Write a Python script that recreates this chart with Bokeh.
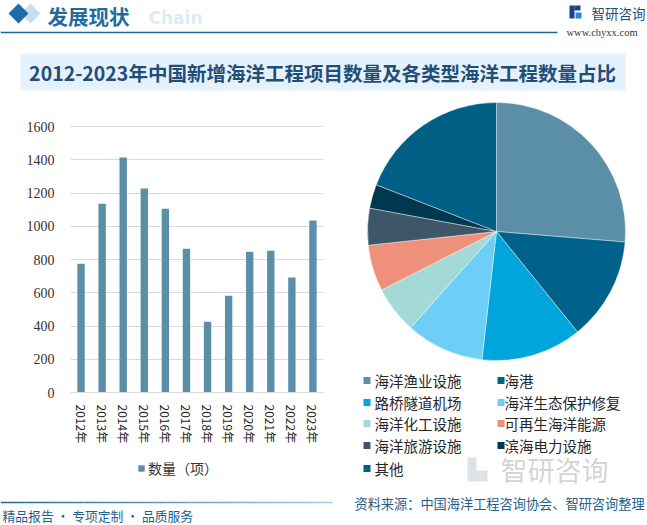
import numpy as np
from bokeh.plotting import figure
from bokeh.models import (ColumnDataSource, Range1d, FactorRange, FixedTicker,
                          Legend, LegendItem)
from bokeh.layouts import column, row
from bokeh.embed import file_html
from bokeh.resources import INLINE
from bokeh.core.properties import value

# ---------------- data ----------------
years = ["2012年", "2013年", "2014年", "2015年", "2016年", "2017年",
         "2018年", "2019年", "2020年", "2021年", "2022年", "2023年"]
counts = [775, 1136, 1413, 1227, 1106, 865, 426, 582, 847, 853, 691, 1034]
y_ticks = [0, 200, 400, 600, 800, 1000, 1200, 1400, 1600]
bar_series = "数量（项）"

pie_labels = ["海洋渔业设施", "海港", "路桥隧道机场", "海洋生态保护修复",
              "海洋化工设施", "可再生海洋能源", "海洋旅游设施", "滨海电力设施", "其他"]
pie_shares = [26.3, 12.9, 12.6, 9.8, 5.9, 5.8, 4.6, 3.0, 19.1]
pie_colors = ["#5B8FA8", "#00628A", "#00A6DB", "#6DCFF6", "#A3D9D6",
              "#EF917A", "#3E5768", "#00384F", "#005F85"]

title_text = "2012-2023年中国新增海洋工程项目数量及各类型海洋工程数量占比"
header_text = "发展现状"
source_text = "资料来源：中国海洋工程咨询协会、智研咨询整理"
slogan_text = "精品报告 · 专项定制 · 品质服务"

FONT = "Noto Sans CJK SC"
BAR = "#5B8FA8"
W = 647


def blank(width, height, xr, yr):
    f = figure(width=width, height=height, x_range=xr, y_range=yr,
               x_axis_type=None, y_axis_type=None, output_backend="svg",
               toolbar_location=None, min_border=0)
    f.outline_line_color = None
    f.grid.visible = False
    return f


# ---------------- header (page y 0..95) ----------------
HH = 95
hdr = blank(W, HH, Range1d(0, W), Range1d(HH, 0))
hdr.scatter(x=[30], y=[13], marker="square", size=14, angle=np.pi / 4,
            fill_color="#C9DFEF", line_color=None)
hdr.scatter(x=[18], y=[13], marker="square", size=14, angle=np.pi / 4,
            fill_color="#1B6CA8", line_color=None)
hdr.text(x=[148], y=[17], text=["Chain"], text_font=value("DejaVu Sans"),
         text_font_style="bold", text_font_size="17px", text_color="#DDEBF6",
         text_align="left", text_baseline="middle")
hdr.text(x=[47], y=[15], text=[header_text], text_font=value(FONT),
         text_font_style="bold", text_font_size="20.5px", text_color="#226A9E",
         text_align="left", text_baseline="middle")
hdr.segment(x0=[0], y0=[32], x1=[557], y1=[32], line_color="#1A6496", line_width=1.5)
# logo
hdr.quad(left=[569], right=[574], top=[5], bottom=[18], fill_color="#1F3F8C", line_color=None)
hdr.quad(left=[574], right=[580], top=[5], bottom=[10], fill_color="#1F3F8C", line_color=None)
hdr.quad(left=[575], right=[581], top=[12], bottom=[18], fill_color="#2E86D0", line_color=None)
hdr.text(x=[591], y=[12], text=["智研咨询"], text_font=value(FONT),
         text_font_size="13.5px", text_color="#1F4E79", text_baseline="middle")
hdr.text(x=[566], y=[32], text=["www.chyxx.com"], text_font=value("Liberation Serif"),
         text_font_size="10.5px", text_color="#333333", text_baseline="middle")
# title box
hdr.quad(left=[20], right=[625], top=[53], bottom=[90], fill_color="#E6F2FB", line_color=None)
hdr.text(x=[322], y=[72], text=[title_text], text_font=value(FONT),
         text_font_style="bold", text_font_size="19.5px", text_color="#1F4E79",
         text_align="center", text_baseline="middle")

# ---------------- bar chart (page y 95..490, x 0..345) ----------------
MH = 395
upp = 1600 / 266.0           # data units per pixel: 0 at page y 392, 1600 at page y 126
y_lo = -(490 - 392) * upp
y_hi = 1600 + (126 - 95) * upp
bar = figure(width=345, height=MH, x_range=FactorRange(*years), y_range=Range1d(y_lo, y_hi),
             output_backend="svg", toolbar_location=None,
             min_border_left=70, min_border_right=22, min_border_top=0, min_border_bottom=0)
src = ColumnDataSource(dict(year=years, count=counts))
r = bar.vbar(x="year", top="count", width=0.35, source=src, fill_color=BAR, line_color=None)
bar.outline_line_color = None
bar.xgrid.visible = False
bar.ygrid.grid_line_color = "#D9D9D9"
bar.yaxis.ticker = FixedTicker(ticks=y_ticks)
bar.yaxis.axis_line_color = None
bar.yaxis.major_tick_line_color = None
bar.yaxis.minor_tick_line_color = None
bar.yaxis.major_label_text_font = "Liberation Serif"
bar.yaxis.major_label_text_font_size = "14px"
bar.yaxis.major_label_text_color = "#333333"
bar.yaxis.major_label_standoff = 10
bar.xaxis.fixed_location = 0
bar.xaxis.axis_line_color = "#D9D9D9"
bar.xaxis.major_tick_line_color = None
bar.xaxis.minor_tick_line_color = None
bar.xaxis.major_label_orientation = "vertical"
bar.xaxis.major_label_text_font = FONT
bar.xaxis.major_label_text_font_size = "12px"
bar.xaxis.major_label_text_color = "#262626"
bar.xaxis.major_label_standoff = 6
leg = Legend(items=[LegendItem(label=bar_series, renderers=[r])], location=(67, 12),
             orientation="horizontal", border_line_color=None, background_fill_alpha=0,
             padding=0, margin=0, glyph_width=8, glyph_height=8, label_standoff=3,
             label_text_font=FONT, label_text_font_size="14px", label_text_color="#333333")
bar.add_layout(leg, "center")

# ---------------- pie (page y 95..490, x 345..647) ----------------
pie = blank(302, MH, Range1d(0, 302), Range1d(0, MH))
fr = np.array(pie_shares, dtype=float)
fr = fr / fr.sum()
cum = np.concatenate([[0.0], np.cumsum(fr)])
psrc = ColumnDataSource(dict(start=np.pi / 2 - 2 * np.pi * cum[:-1],
                             end=np.pi / 2 - 2 * np.pi * cum[1:],
                             color=pie_colors, label=pie_labels))
pie.wedge(x=151, y=259, radius=129, start_angle="start", end_angle="end",
          direction="clock", fill_color="color", line_color="white", line_width=0.4,
          source=psrc)
# watermark
pie.quad(left=[122], right=[131], top=[33], bottom=[9], fill_color="#C8CDD3", line_color=None, alpha=0.6)
pie.quad(left=[131], right=[142], top=[20], bottom=[9], fill_color="#C8CDD3", line_color=None, alpha=0.6)
pie.text(x=[155], y=[21], text=["智研咨询"], text_font=value(FONT), text_font_size="27px",
         text_color="#B8B8B8", text_alpha=0.6, text_baseline="middle")
# legend
lx_sq = [21.5, 155.5]
lx_tx = [29, 159]
ly = [110, 88, 67, 45, 22]
sq_x, sq_y, tx_x = [], [], []
for i in range(len(pie_labels)):
    c, rr = i % 2, i // 2
    sq_x.append(lx_sq[c]); sq_y.append(ly[rr]); tx_x.append(lx_tx[c])
pie.scatter(x=sq_x, y=sq_y, marker="square", size=7, fill_color=pie_colors, line_color=None)
pie.text(x=tx_x, y=sq_y, text=pie_labels, text_font=value(FONT), text_font_size="14.5px",
         text_color="#262626", text_baseline="middle")

# ---------------- footer (page y 490..525) ----------------
FH = 35
ftr = blank(W, FH, Range1d(0, W), Range1d(FH, 0))
n = 40
xs = np.linspace(0, 332, n + 1)
c0 = np.array([0x22, 0x66, 0x98])
c1 = np.array([0xA8, 0xC8, 0xE0])
cols = ["#%02x%02x%02x" % tuple((c0 + (c1 - c0) * t).astype(int)) for t in np.linspace(0, 1, n)]
ftr.segment(x0=xs[:-1], y0=[12] * n, x1=xs[1:], y1=[12] * n, line_color=cols, line_width=1.6)
ftr.text(x=[354], y=[13], text=[source_text], text_font=value(FONT), text_font_size="13.2px",
         text_color="#1F5F8B", text_baseline="middle")
ftr.text(x=[2], y=[25], text=[slogan_text], text_font=value(FONT), text_font_size="12.8px",
         text_color="#1F5F8B", text_baseline="middle")

layout = column(hdr, row(bar, pie, spacing=0), ftr, spacing=0)
open("out.html", "w").write(file_html(layout, INLINE))
